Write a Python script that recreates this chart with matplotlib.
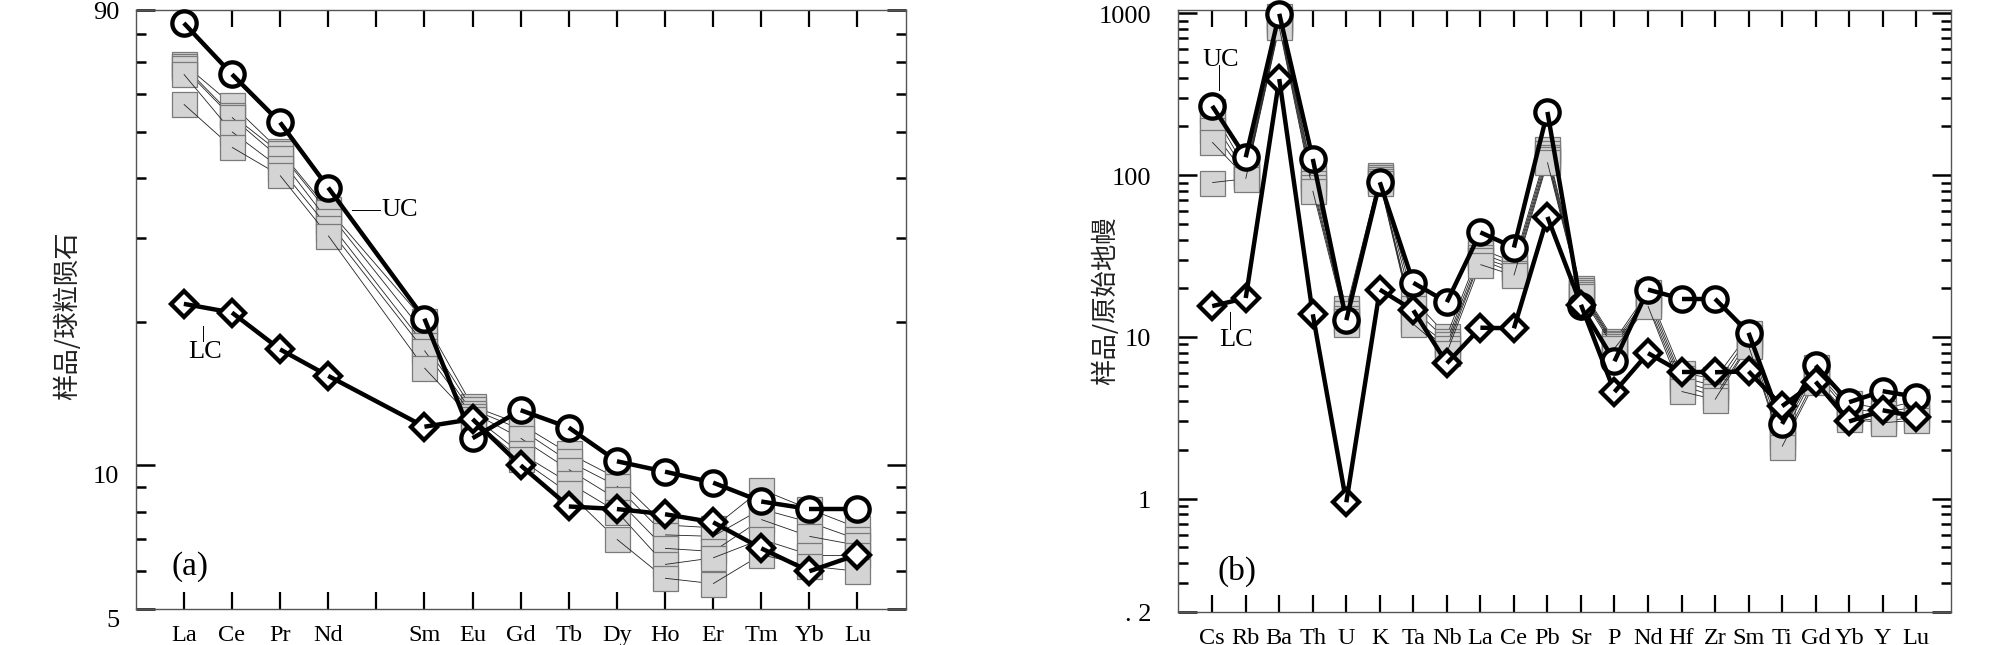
import numpy as np
import matplotlib
matplotlib.use('Agg')
import matplotlib.pyplot as plt
from matplotlib.ticker import FixedLocator, NullFormatter, NullLocator

plt.rcParams['font.family'] = ['Liberation Serif', 'DejaVu Serif']

nan = np.nan
# ---------------- (a) chondrite-normalised REE ----------------
ree_labels = ['La', 'Ce', 'Pr', 'Nd', '', 'Sm', 'Eu', 'Gd', 'Tb', 'Dy', 'Ho', 'Er', 'Tm', 'Yb', 'Lu']
ree_uc = [84.5, 66.0, 52.3, 38.2, nan, 20.3, 11.4, 13.05, 12.0, 10.2, 9.7, 9.2, 8.4, 8.1, 8.1]
ree_lc = [21.8, 20.9, 17.5, 15.4, nan, 12.05, 12.5, 10.0, 8.2, 8.1, 7.9, 7.6, 6.7, 6.0, 6.5]
ree_s1 = [69.4, 57.0, 45.6, 34.4, nan, 20.1, 13.3, 12.2, 10.6, 9.4, 7.5, 7.4, 8.9, 8.1, 7.4]
ree_s2 = [68.7, 54.2, 45.2, 33.9, nan, 18.9, 13.1, 11.9, 10.2, 9.05, 7.15, 7.1, 8.1, 7.6, 7.0]
ree_s3 = [68.0, 53.6, 44.0, 32.5, nan, 17.9, 12.9, 11.4, 9.8, 8.5, 6.7, 6.6, 7.7, 7.1, 6.8]
ree_s4 = [66.0, 50.0, 42.0, 31.5, nan, 17.4, 12.7, 10.6, 9.2, 8.0, 6.2, 6.4, 7.0, 6.5, 6.5]
ree_s5 = [57.1, 46.4, 40.5, 30.3, nan, 16.0, 12.5, 10.3, 8.75, 7.0, 5.8, 5.65, 6.5, 6.15, 6.0]

# ---------------- (b) primitive-mantle-normalised spider ----------------
pm_labels = ['Cs', 'Rb', 'Ba', 'Th', 'U', 'K', 'Ta', 'Nb', 'La', 'Ce', 'Pb', 'Sr', 'P', 'Nd',
             'Hf', 'Zr', 'Sm', 'Ti', 'Gd', 'Yb', 'Y', 'Lu']
pm_uc = [268, 129, 995, 126, 12.7, 90.4, 21.6, 16.4, 44.3, 35.7, 246, 15.5, 7.07, 19.6,
         17.2, 17.2, 10.6, 2.90, 6.67, 3.95, 4.62, 4.26]
pm_lc = [15.5, 17.4, 393, 13.8, 0.95, 19.6, 14.6, 6.87, 11.4, 11.3, 55.2, 15.8, 4.57, 7.94,
         6.05, 6.05, 6.12, 3.73, 5.29, 3.0, 3.52, 3.22]
pm_s1 = [250, 110, 960, 100, 15, 100, 17, 10.2, 35, 29, 145, 20, 9.5, 19, 6.0, 5.5, 10.5, 3.0, 6.5, 3.9, 3.6, 4.0]
pm_s2 = [220, 104, 920, 96, 14, 98, 15, 9.5, 33, 27.5, 138, 19.5, 9.2, 18, 5.6, 5.0, 10, 2.6, 6.2, 3.6, 3.4, 3.7]
pm_s3 = [190, 100, 880, 90, 13, 95, 13, 9.0, 31, 26.5, 130, 19, 9.0, 17, 5.3, 4.6, 9.5, 2.4, 6.0, 3.4, 3.2, 3.4]
pm_s4 = [160, 97, 850, 85, 12.5, 92, 12.5, 8.5, 30, 25, 125, 18.5, 8.8, 16, 5.0, 4.3, 9.0, 2.2, 5.6, 3.2, 3.0, 3.2]
pm_s5 = [90, 95, 820, 80, 12, 90, 12, 8.0, 28, 24, 120, 18, 8.5, 15.5, 4.6, 4.1, 8.8, 2.1, 5.3, 3.1, 2.95, 3.05]


def draw_series(ax, xs, ys, marker, ms, mfc, mec, mew, lc, lw, zbase, dz=0.001):
    pts = [(x, y) for x, y in zip(xs, ys) if not np.isnan(y)]
    n = len(pts)
    for i in range(n):
        ax.plot([pts[i][0]], [pts[i][1]], marker=marker, ms=ms, mfc=mfc, mec=mec, mew=mew,
                ls='none', zorder=zbase + 2 * i * dz, clip_on=False)
        if i < n - 1:
            ax.plot([pts[i][0], pts[i + 1][0]], [pts[i][1], pts[i + 1][1]], color=lc, lw=lw,
                    zorder=zbase + (2 * i + 1) * dz, solid_capstyle='butt')


def style(ax, majors, minors, ylabels, ypad):
    ax.set_yscale('log')
    ax.yaxis.set_major_locator(FixedLocator(majors))
    ax.yaxis.set_minor_locator(FixedLocator(minors))
    ax.yaxis.set_minor_formatter(NullFormatter())
    ax.set_yticklabels(ylabels)
    ax.xaxis.set_minor_locator(NullLocator())
    ax.tick_params(which='both', direction='in', top=True, right=True, color='black')
    ax.tick_params(axis='y', which='major', length=13.5, width=1.8, pad=ypad, labelsize=19)
    ax.tick_params(axis='y', which='minor', length=7.5, width=1.8)
    ax.tick_params(axis='x', which='major', length=12, width=1.6, pad=11, labelsize=17.5)
    for sp in ax.spines.values():
        sp.set_color('#555555')
        sp.set_linewidth(1.0)


fig = plt.figure(figsize=(20.08, 6.4599), dpi=100)

SQ = dict(marker='s', ms=18, mfc='#d4d4d4', mec='#7a7a7a', mew=0.9, lc='#222222', lw=0.6)
CI = dict(marker='o', ms=17.5, mfc='white', mec='black', mew=3.1, lc='black', lw=3.2)
DI = dict(marker='D', ms=13, mfc='white', mec='black', mew=3.1, lc='black', lw=3.2)

# ---------------- panel (a) ----------------
ax1 = fig.add_axes([0.0676, 0.0557, 0.3834, 0.9273])
xr = np.arange(1, len(ree_labels) + 1)
for k, s in enumerate([ree_s1, ree_s2, ree_s3, ree_s4, ree_s5]):
    draw_series(ax1, xr, s, zbase=2 + k * 0.1, **SQ)
draw_series(ax1, xr, ree_uc, zbase=10, **CI)
draw_series(ax1, xr, ree_lc, zbase=20, **DI)
ax1.set_xlim(0, 16)
ax1.set_ylim(5, 90)
ax1.set_xticks(xr)
ax1.set_xticklabels(ree_labels)
style(ax1, [5, 10, 90], [6, 7, 8, 9, 20, 30, 40, 50, 60, 70, 80], ['5', '10', '90'], 12)
labs = ax1.get_yticklabels()
labs[0].set_va('top')
labs[1].set_va('top')

ax1.text(0.343, 0.668, 'UC', transform=ax1.transAxes, ha='center', va='center', fontsize=19)
ax1.plot([0.2805, 0.3173], [0.666, 0.666], transform=ax1.transAxes, color='black', lw=0.7)
ax1.text(0.0906, 0.431, 'LC', transform=ax1.transAxes, ha='center', va='center', fontsize=19)
ax1.plot([0.0878, 0.0878], [0.473, 0.448], transform=ax1.transAxes, color='black', lw=0.7)
ax1.text(0.0705, 0.0723, '(a)', transform=ax1.transAxes, ha='center', va='center', fontsize=24)
ax1.text(-0.088, 0.491, '样品/球粒陨石', transform=ax1.transAxes, rotation=90,
         ha='center', va='center', fontsize=19, family=['Noto Sans CJK SC', 'DejaVu Sans'],
         color='#222222')

# ---------------- panel (b) ----------------
ax2 = fig.add_axes([0.5865, 0.0515, 0.3853, 0.9315])
xp = np.arange(len(pm_labels))
for k, s in enumerate([pm_s1, pm_s2, pm_s3, pm_s4, pm_s5]):
    draw_series(ax2, xp, s, zbase=2 + k * 0.1, **SQ)
draw_series(ax2, xp, pm_uc, zbase=10, **CI)
draw_series(ax2, xp, pm_lc, zbase=20, **DI)
ax2.set_xlim(-1.03, 22.05)
ax2.set_ylim(0.2, 1050)
ax2.set_xticks(xp)
ax2.set_xticklabels(pm_labels)
minors_b = [0.3, 0.4, 0.5, 0.6, 0.7, 0.8, 0.9] + list(range(2, 10)) + list(range(20, 100, 10)) \
    + list(range(200, 1000, 100))
style(ax2, [0.2, 1, 10, 100, 1000], minors_b, ['. 2', '1', '10', '100', '1000'], 19)

ax2.text(0.0561, 0.919, 'UC', transform=ax2.transAxes, ha='center', va='center', fontsize=19)
ax2.plot([0.0534, 0.0534], [0.9086, 0.867], transform=ax2.transAxes, color='black', lw=0.7)
ax2.text(0.0754, 0.453, 'LC', transform=ax2.transAxes, ha='center', va='center', fontsize=19)
ax2.plot([0.0676, 0.0676], [0.498, 0.470], transform=ax2.transAxes, color='black', lw=0.7)
ax2.text(0.077, 0.068, '(b)', transform=ax2.transAxes, ha='center', va='center', fontsize=24)
ax2.text(-0.0932, 0.518, '样品/原始地幔', transform=ax2.transAxes, rotation=90,
         ha='center', va='center', fontsize=19, family=['Noto Sans CJK SC', 'DejaVu Sans'],
         color='#222222')

fig.savefig('out.png', dpi=100)
